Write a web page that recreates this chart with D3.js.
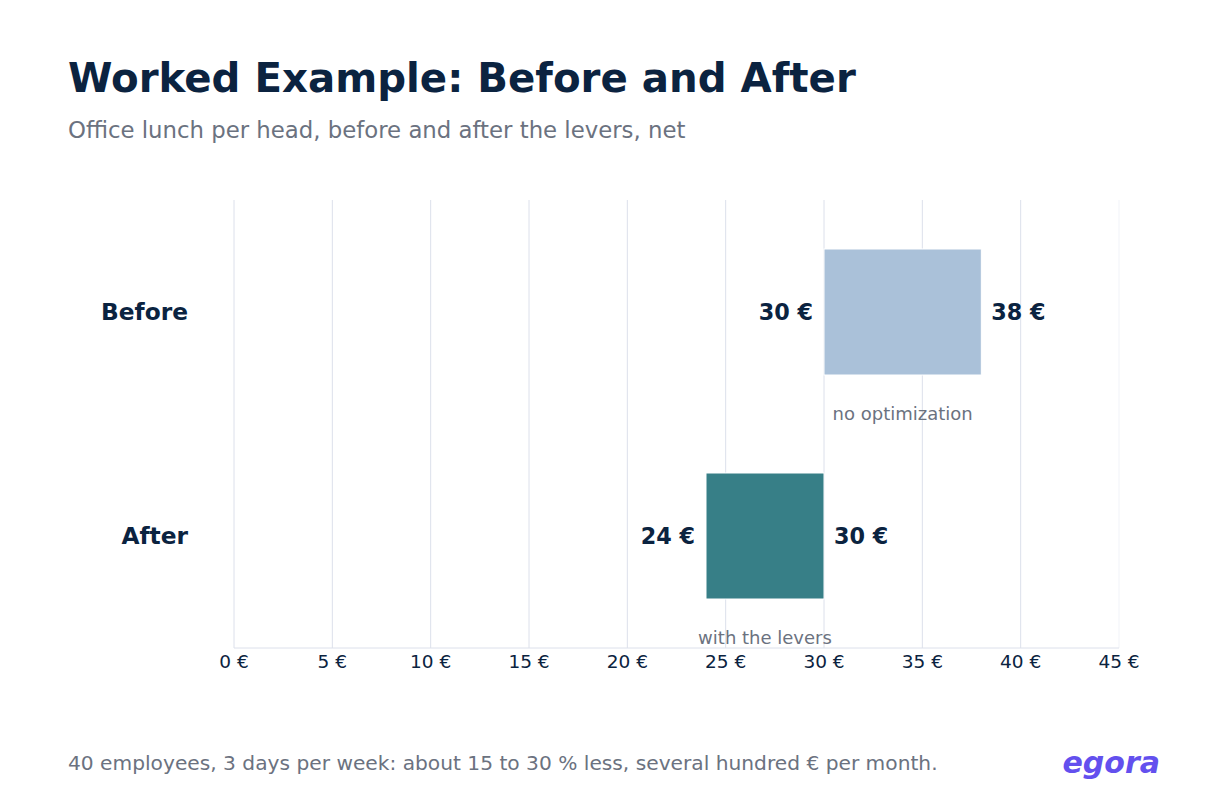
<!DOCTYPE html>
<html>
<head>
<meta charset="utf-8">
<script src="https://cdn.jsdelivr.net/npm/d3@7"></script>
<style>
  body { margin: 0; background: #fff; font-family: "DejaVu Sans", sans-serif; }
</style>
</head>
<body>
<div id="chart"></div>
<script>
// Data
const categories = ["Before", "After"];
const lowValues = [30, 24];
const highValues = [38, 30];
const notes = ["no optimization", "with the levers"];
const barColors = ["#aac1d9", "#377f87"];
const xTicks = [0, 5, 10, 15, 20, 25, 30, 35, 40, 45];

const W = 1230, H = 800;
const navy = "#0b2340", grey = "#6b7280";

const svg = d3.select("#chart")
    .append("svg")
    .attr("width", W)
    .attr("height", H);

// Title and subtitle
svg.append("text")
    .attr("x", 68)
    .attr("y", 92)
    .attr("font-size", "40.3px")
    .attr("font-weight", "bold")
    .attr("fill", navy)
    .text("Worked Example: Before and After");

svg.append("text")
    .attr("x", 68)
    .attr("y", 138)
    .attr("font-size", "22.8px")
    .attr("fill", grey)
    .text("Office lunch per head, before and after the levers, net");

// Scales
const x = d3.scaleLinear()
    .domain([0, 45])
    .range([234, 1119]);

const y = d3.scaleBand()
    .domain(categories)
    .range([200, 648])
    .padding(0);

const barH = y.bandwidth() * 0.5625;

// Grid lines
svg.selectAll(".grid")
    .data(xTicks)
    .enter()
    .append("line")
    .attr("class", "grid")
    .attr("x1", d => x(d))
    .attr("x2", d => x(d))
    .attr("y1", 200)
    .attr("y2", 648)
    .attr("stroke", d => d === 45 ? "#f1f3f8" : "#dce0eb")
    .attr("stroke-width", 1);

// Baseline
svg.append("path")
    .attr("d", `M${x(0)},648H${x(45)}`)
    .attr("stroke", "#dce0eb")
    .attr("stroke-width", 1);

// Tick labels
svg.selectAll(".x-label")
    .data(xTicks)
    .enter()
    .append("text")
    .attr("class", "x-label")
    .attr("x", d => x(d))
    .attr("y", 668)
    .attr("text-anchor", "middle")
    .attr("font-size", "18.5px")
    .attr("fill", navy)
    .text(d => d + " €");

// Category labels
svg.selectAll(".cat")
    .data(categories)
    .enter()
    .append("text")
    .attr("class", "cat")
    .attr("x", 188)
    .attr("y", d => y(d) + y.bandwidth() / 2)
    .attr("dy", "0.35em")
    .attr("text-anchor", "end")
    .attr("font-size", "23.3px")
    .attr("font-weight", "bold")
    .attr("fill", navy)
    .text(d => d);

// Bars
svg.selectAll(".bar")
    .data(categories)
    .enter()
    .append("rect")
    .attr("class", "bar")
    .attr("x", (d, i) => x(lowValues[i]))
    .attr("y", d => y(d) + (y.bandwidth() - barH) / 2)
    .attr("width", (d, i) => x(highValues[i]) - x(lowValues[i]))
    .attr("height", barH)
    .attr("fill", (d, i) => barColors[i])
    .attr("stroke", "#fff")
    .attr("stroke-width", 1);

// Value labels
svg.selectAll(".low")
    .data(categories)
    .enter()
    .append("text")
    .attr("x", (d, i) => x(lowValues[i]) - 11)
    .attr("y", d => y(d) + y.bandwidth() / 2)
    .attr("dy", "0.35em")
    .attr("text-anchor", "end")
    .attr("font-size", "22.3px")
    .attr("font-weight", "bold")
    .attr("fill", navy)
    .text((d, i) => lowValues[i] + " €");

svg.selectAll(".high")
    .data(categories)
    .enter()
    .append("text")
    .attr("x", (d, i) => x(highValues[i]) + 10)
    .attr("y", d => y(d) + y.bandwidth() / 2)
    .attr("dy", "0.35em")
    .attr("text-anchor", "start")
    .attr("font-size", "22.3px")
    .attr("font-weight", "bold")
    .attr("fill", navy)
    .text((d, i) => highValues[i] + " €");

// Notes under bars
svg.selectAll(".note")
    .data(categories)
    .enter()
    .append("text")
    .attr("x", (d, i) => (x(lowValues[i]) + x(highValues[i])) / 2)
    .attr("y", d => y(d) + (y.bandwidth() + barH) / 2 + 45)
    .attr("text-anchor", "middle")
    .attr("font-size", "18px")
    .attr("fill", grey)
    .text((d, i) => notes[i]);

// Footer
svg.append("text")
    .attr("x", 68)
    .attr("y", 770)
    .attr("font-size", "20.2px")
    .attr("fill", grey)
    .text("40 employees, 3 days per week: about 15 to 30 % less, several hundred € per month.");

svg.append("text")
    .attr("x", 1160)
    .attr("y", 773)
    .attr("text-anchor", "end")
    .attr("font-size", "30px")
    .attr("font-weight", "bold")
    .attr("font-style", "italic")
    .attr("fill", "#6350ee")
    .text("egora");
</script>
</body>
</html>
